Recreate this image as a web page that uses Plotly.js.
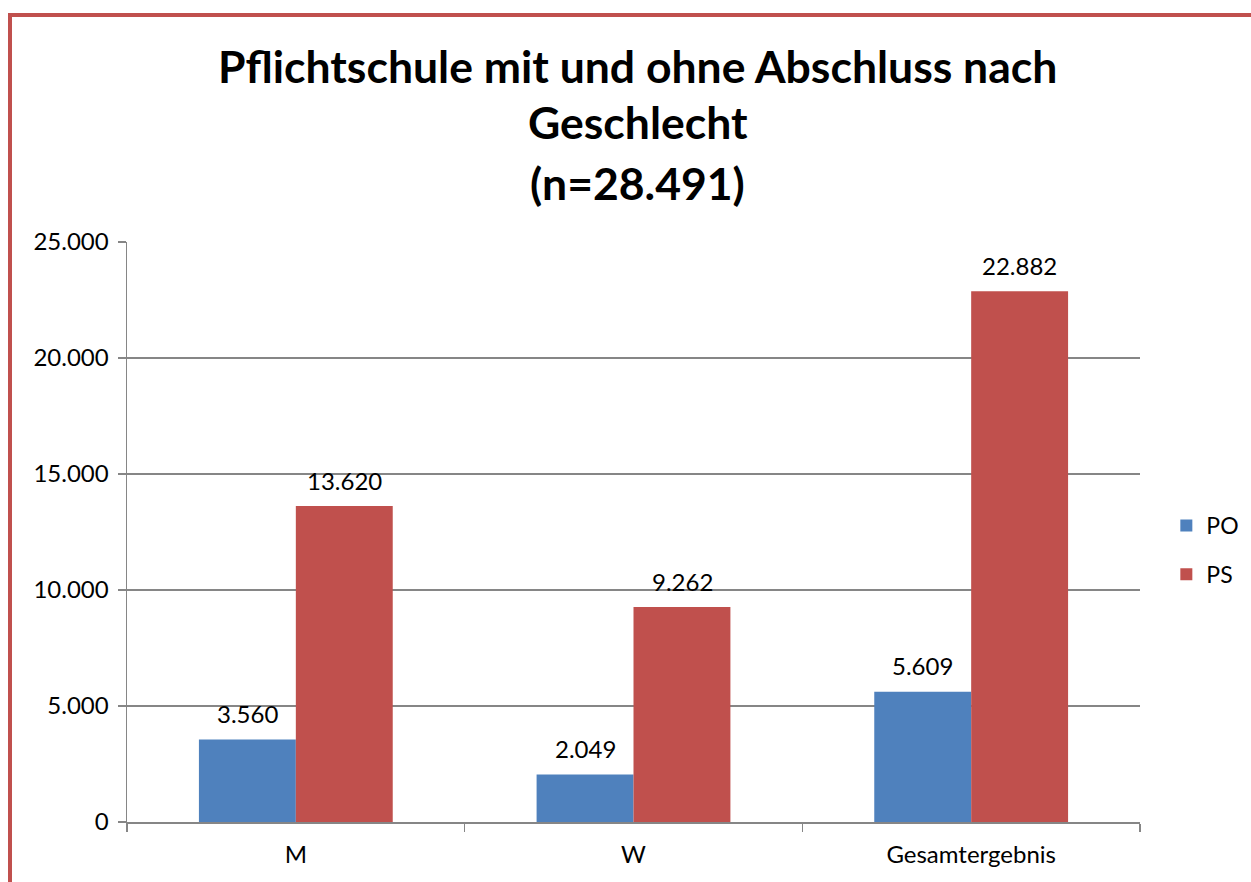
<!DOCTYPE html>
<html>
<head>
<meta charset="utf-8">
<script src="https://cdn.plot.ly/plotly-3.0.1.min.js"></script>
<style>
html,body{margin:0;padding:0;background:#fff;overflow:hidden;}
#frame{position:absolute;left:8px;top:13px;width:1400px;height:1000px;border:4px solid #C0504D;box-sizing:border-box;}
#chart{position:absolute;left:0;top:0;width:1251px;height:882px;}
</style>
</head>
<body>
<div id="frame"></div>
<div id="chart"></div>
<script>
const categories = ["M", "W", "Gesamtergebnis"];
const seriesNames = ["PO", "PS"];
const poValues = [3560, 2049, 5609];
const psValues = [13620, 9262, 22882];
const yTicks = [0, 5000, 10000, 15000, 20000, 25000];
const titleLines = ["Pflichtschule mit und ohne Abschluss nach", "Geschlecht", "(n=28.491)"];

const font = "Lato, 'Open Sans', sans-serif";
const fmt = v => v.toString().replace(/\B(?=(\d{3})+(?!\d))/g, ".");

const traces = [
  {type:"bar", name:seriesNames[0], x:categories, y:poValues, marker:{color:"#4F81BD"}, legendgroup:"a"},
  {type:"bar", name:seriesNames[1], x:categories, y:psValues, marker:{color:"#C0504D"}, legendgroup:"b"}
];

const annotations = [];
[poValues, psValues].forEach((arr, si) => {
  arr.forEach((v, i) => {
    annotations.push({x:categories[i], y:v, xref:"x", yref:"y", text:fmt(v), showarrow:false,
      xshift: si === 0 ? -48.5 : 48.5, yshift:26, font:{size:24, color:"#000", family:font}});
  });
});
const titleY = [1.305, 1.207, 1.103];
titleLines.forEach((t, i) => {
  annotations.push({text:t, xref:"paper", yref:"paper", x:0.504, y:titleY[i], xanchor:"center", yanchor:"middle",
    showarrow:false, font:{size:44.5, family:font, weight:"bold", color:"#000"}});
});

const layout = {
  width:1251, height:882,
  paper_bgcolor:"rgba(0,0,0,0)", plot_bgcolor:"rgba(0,0,0,0)",
  margin:{l:127, r:111, t:242, b:60, autoexpand:false},
  separators:",.",
  font:{family:font, size:24, color:"#000"},
  barmode:"group", bargap:0.426, bargroupgap:0,
  xaxis:{type:"category", showline:true, linecolor:"#868686", linewidth:1.5, ticks:"outside", tickson:"boundaries",
    ticklen:8, tickcolor:"#868686", tickwidth:1.5, ticklabelstandoff:11, tickfont:{size:24}, showgrid:false},
  yaxis:{range:[0,25000], tickvals:yTicks, tickformat:",d", showline:true, linecolor:"#868686", linewidth:1.5,
    ticks:"outside", ticklen:8, tickcolor:"#868686", tickwidth:1.5, gridcolor:"#868686", gridwidth:1.2,
    zeroline:false, tickfont:{size:24}, ticklabelstandoff:4},
  legend:{x:1.026, y:0.469, xanchor:"left", yanchor:"middle", font:{size:23}, tracegroupgap:16, bgcolor:"rgba(0,0,0,0)"},
  annotations: annotations,
  showlegend:true
};

Plotly.newPlot("chart", traces, layout, {displayModeBar:false, staticPlot:true});
</script>
</body>
</html>
